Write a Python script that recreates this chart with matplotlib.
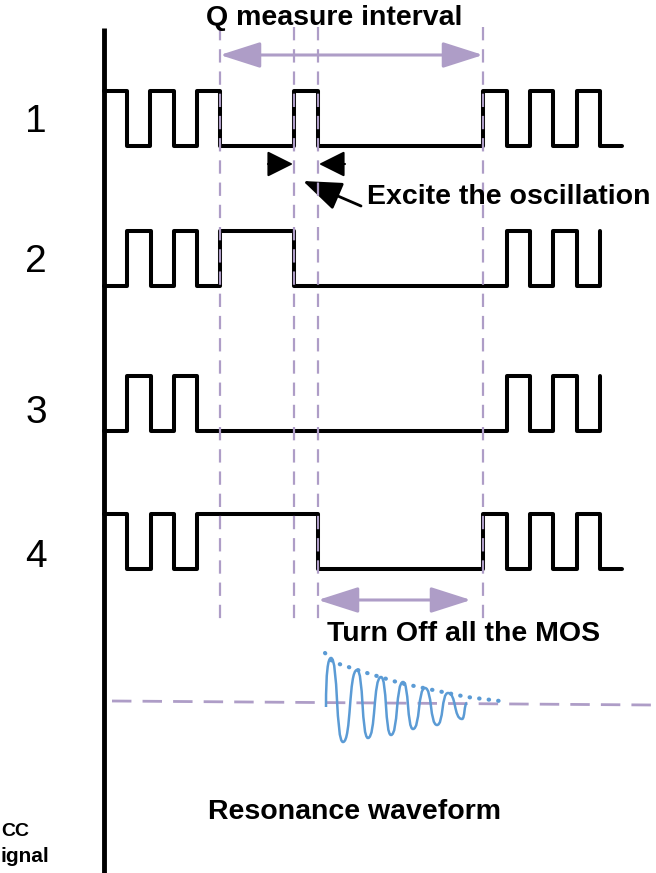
import matplotlib.pyplot as plt
from matplotlib.patches import FancyArrowPatch, PathPatch
from matplotlib.path import Path

plt.rcParams['font.family'] = ['Liberation Sans', 'DejaVu Sans']

# gate signals: x of each level change (pixels) and the level after it
sig_x = [
    [104, 127, 150, 174, 197, 220, 294, 318, 483, 507, 530, 553, 577, 600, 622],
    [104, 127, 151, 174, 197, 220, 294, 507, 530, 553, 577, 600],
    [104, 127, 151, 174, 197, 507, 530, 553, 577, 600],
    [104, 127, 151, 174, 197, 318, 483, 507, 530, 553, 577, 600, 622],
]
sig_lvl = [
    [1, 0, 1, 0, 1, 0, 1, 0, 1, 0, 1, 0, 1, 0, 0],
    [0, 1, 0, 1, 0, 1, 0, 1, 0, 1, 0, 1],
    [0, 1, 0, 1, 0, 1, 0, 1, 0, 1],
    [1, 0, 1, 0, 1, 0, 1, 0, 1, 0, 1, 0, 0],
]
sig_low = [146, 286, 431, 569]
sig_labels = ['1', '2', '3', '4']
label_y = [122, 262, 413, 557]
marks_x = [220, 294, 318, 483]

# resonance waveform extrema and its envelope
res_x = [326, 331, 343, 357, 368, 381, 391, 403, 413, 425, 437, 448, 462, 467]
res_y = [707, 658, 742, 670, 738, 677, 735, 682, 729, 688, 725, 693, 719, 703]
env_x = [325, 333, 367, 400, 433, 467, 500]
env_y = [653, 662, 673, 683, 690, 697, 701]

purple = '#AE9DC7'
blue = '#5B9BD5'
amp = 55

fig = plt.figure(figsize=(6.56, 8.73), dpi=100)
ax = fig.add_axes([0, 0, 1, 1])
ax.set_xlim(0, 656)
ax.set_ylim(873, 0)
ax.axis('off')

# left axis
ax.plot([104, 104], [28, 873], color='black', lw=3.5, solid_capstyle='butt')

for xs, lv, low, lab, ly in zip(sig_x, sig_lvl, sig_low, sig_labels, label_y):
    ys = [low - v * amp for v in lv]
    ax.step(xs, ys, where='post', color='black', lw=2.9,
            solid_capstyle='round', solid_joinstyle='round', zorder=2)
    ax.text(36, ly, lab, fontsize=28, ha='center', va='center')

# dashed markers
for x in marks_x:
    ax.plot([x, x], [27, 627], color=purple, lw=1.6, dashes=(6, 4), zorder=3)
ax.plot([112, 652], [701, 705], color=purple, lw=2, dashes=(7, 4), zorder=1)

# Q measure interval
ax.add_patch(FancyArrowPatch((220, 55), (483, 55),
                             arrowstyle='<|-|>,head_length=25,head_width=8',
                             color=purple, lw=2.2, shrinkA=0, shrinkB=0))
ax.text(334, 18, 'Q measure interval', fontsize=20.5, fontweight='bold',
        ha='center', va='center')

# excite pulse markers
ax.add_patch(FancyArrowPatch((268, 164), (293, 164),
                             arrowstyle='-|>,head_length=16,head_width=8',
                             color='black', lw=1.5, shrinkA=0, shrinkB=0))
ax.add_patch(FancyArrowPatch((345, 164), (319, 164),
                             arrowstyle='-|>,head_length=16,head_width=8',
                             color='black', lw=1.5, shrinkA=0, shrinkB=0))
ax.add_patch(FancyArrowPatch((361, 206), (303, 181),
                             arrowstyle='-|>,head_length=24,head_width=9',
                             color='black', lw=2, shrinkA=0, shrinkB=0))
ax.text(367, 197, 'Excite the oscillation', fontsize=20.5, fontweight='bold',
        ha='left', va='center')

# turn off interval
ax.add_patch(FancyArrowPatch((318, 600), (471, 600),
                             arrowstyle='<|-|>,head_length=25,head_width=8',
                             color=purple, lw=2.2, shrinkA=0, shrinkB=0))
ax.text(327, 634, 'Turn Off all the MOS', fontsize=20.5, fontweight='bold',
        ha='left', va='center')

# resonance: smooth curve through the extrema
verts = [(res_x[0], res_y[0])]
codes = [Path.MOVETO]
for i in range(1, len(res_x)):
    x0, y0 = res_x[i - 1], res_y[i - 1]
    x1, y1 = res_x[i], res_y[i]
    d = 0.6 * (x1 - x0)
    verts += [(x0 + d, y0) if i > 1 else (x0, y0 - 35), (x1 - d, y1), (x1, y1)]
    codes += [Path.CURVE4] * 3
ax.add_patch(PathPatch(Path(verts, codes), fill=False, edgecolor=blue, lw=1.8, zorder=4))
ax.plot(env_x, env_y, color=blue, lw=3, linestyle=(0, (0.1, 2.2)),
        dash_capstyle='round', zorder=4)

ax.text(355, 812, 'Resonance waveform', fontsize=20.5, fontweight='bold',
        ha='center', va='center')
ax.text(1, 832, 'CC', fontsize=14, fontweight='bold', ha='left', va='center')
ax.text(1, 856, 'ignal', fontsize=15, fontweight='bold', ha='left', va='center')

fig.savefig('out.png', dpi=100)
